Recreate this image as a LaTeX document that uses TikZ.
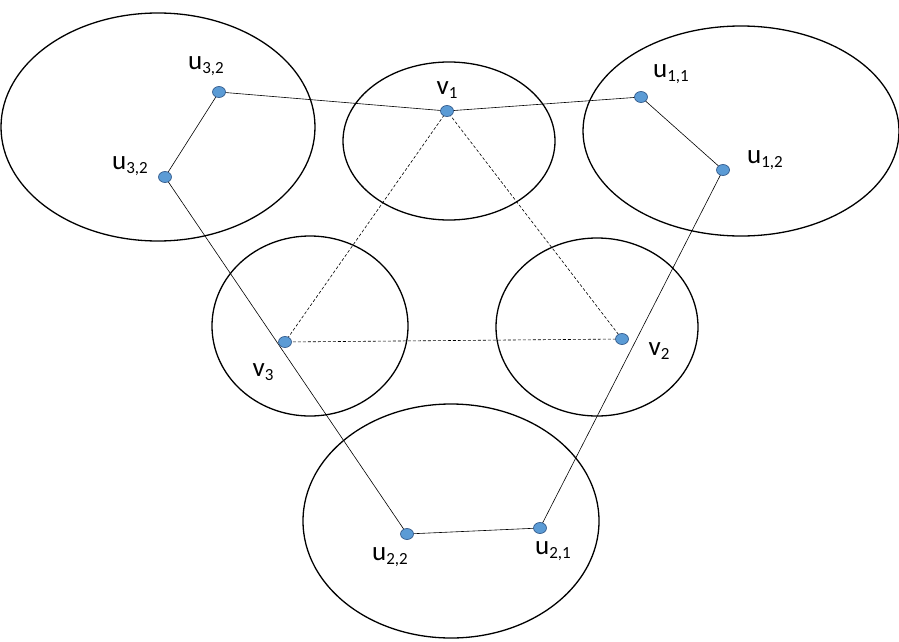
\documentclass[tikz,border=0pt]{standalone}
\usepackage{fontspec}
\setmainfont{Carlito}
\usetikzlibrary{shapes.geometric}
\newcommand{\sbx}[1]{\raisebox{-0.35ex}{\fontsize{17}{17}\selectfont #1}}
\begin{document}
\begin{tikzpicture}[x=1pt,y=-1pt,
  dot/.style={ellipse,inner sep=0pt,minimum width=13pt,minimum height=11pt,fill={rgb,255:red,91;green,155;blue,213},draw={rgb,255:red,50;green,90;blue,140},line width=0.7pt},
  oval/.style={draw,line width=1.3pt},
  lab/.style={font=\fontsize{27}{27}\selectfont},
  edge/.style={line width=0.6pt},
  dedge/.style={line width=0.6pt,dash pattern=on 3pt off 2pt}]
\useasboundingbox (0,0) rectangle (899,642);
\draw[oval] (158,127) ellipse [x radius=157,y radius=114];
\draw[oval] (449,141) ellipse [x radius=106,y radius=79];
\draw[oval] (741,131) ellipse [x radius=158,y radius=105];
\draw[oval] (310,326) ellipse [x radius=98,y radius=90];
\draw[oval] (597,327) ellipse [x radius=101,y radius=89];
\draw[oval] (451,521) ellipse [x radius=148,y radius=117];
\coordinate (a) at (219,92);
\coordinate (b) at (165,177);
\coordinate (c) at (447,111);
\coordinate (d) at (641,97);
\coordinate (e) at (723,170);
\coordinate (f) at (285,342);
\coordinate (g) at (622,339);
\coordinate (h) at (407,534);
\coordinate (i) at (540,528);
\draw[edge] (a)--(c)--(d)--(e)--(i)--(h)--(b)--(a);
\draw[dedge] (c)--(f)--(g)--(c);
\foreach \p in {a,b,c,d,e,f,g,h,i} \node[dot] (n\p) at (\p) {};
\node[lab] (la) at (206,66) {u\sbx{3,2}};
\node[lab] (lb) at (130,166) {u\sbx{3,2}};
\node[lab] (lc) at (447,90) {v\sbx{1}};
\node[lab] (ld) at (671,74) {u\sbx{1,1}};
\node[lab] (le) at (765,160) {u\sbx{1,2}};
\node[lab] (lf) at (263,372) {v\sbx{3}};
\node[lab] (lg) at (659,351) {v\sbx{2}};
\node[lab] (lh) at (390,557) {u\sbx{2,2}};
\node[lab] (li) at (553,551) {u\sbx{2,1}};
\end{tikzpicture}
\end{document}
